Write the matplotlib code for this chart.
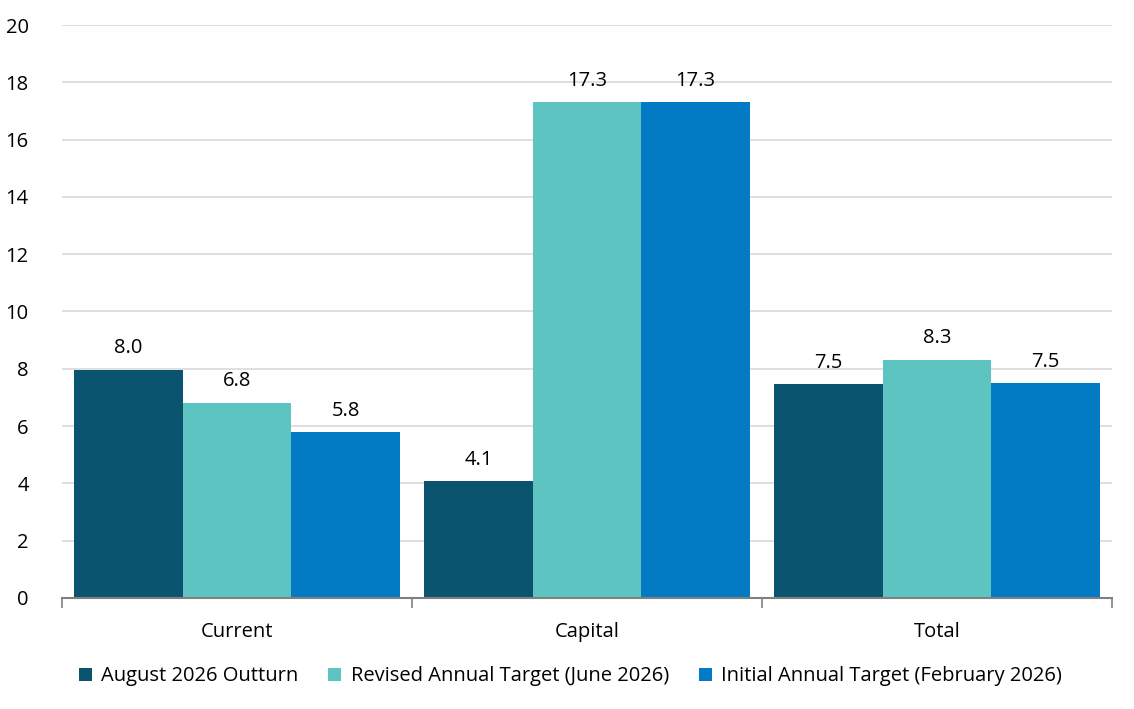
import matplotlib
matplotlib.use("Agg")
import matplotlib.pyplot as plt
import numpy as np

categories = ["Current", "Capital", "Total"]
series_names = ["August 2026 Outturn", "Revised Annual Target (June 2026)", "Initial Annual Target (February 2026)"]
outturn = [7.96, 4.08, 7.47]
revised = [6.81, 17.31, 8.31]
initial = [5.79, 17.31, 7.50]
colors = ["#0B5470", "#5EC4C1", "#037BC4"]
yticks = [0, 2, 4, 6, 8, 10, 12, 14, 16, 18, 20]

plt.rcParams['font.family'] = ['Open Sans', 'DejaVu Sans']
fig = plt.figure(figsize=(11.34, 7.09), dpi=100)
ax = fig.add_axes([0.0547, 0.1566, 0.9259, 0.8081])

x = np.arange(len(categories))
w = 0.31
fs = 14.5
for i, (vals, name) in enumerate(zip([outturn, revised, initial], series_names)):
    pos = x + (i - 1) * w
    bars = ax.bar(pos, vals, width=w, color=colors[i], label=name, zorder=3)
    for b, v in zip(bars, vals):
        ax.text(b.get_x() + b.get_width() / 2, v + 0.4, f"{v:.1f}", ha="center", va="bottom",
                fontsize=fs, color="#000000")

ax.set_xlim(-0.5, 2.5)
ax.set_ylim(0, 20)
ax.set_yticks(yticks)
ax.set_yticklabels([str(t) for t in yticks], fontsize=fs)
ax.set_xticks(x)
ax.set_xticklabels(categories, fontsize=fs)
ax.tick_params(axis='x', which='major', length=0, pad=17)
ax.set_xticks([-0.5, 0.5, 1.5, 2.5], minor=True)
ax.tick_params(axis='x', which='minor', length=7, width=1.2, color="#808080", direction='out')
ax.tick_params(axis='y', length=0, pad=24)
for t in ax.get_yticklabels():
    t.set_horizontalalignment('right')

ax.yaxis.grid(True, color="#D9D9D9", linewidth=1.2, zorder=0)
ax.set_axisbelow(True)
for s in ["top", "right", "left"]:
    ax.spines[s].set_visible(False)
ax.spines["bottom"].set_color("#808080")
ax.spines["bottom"].set_linewidth(1.5)
ax.spines["bottom"].set_zorder(4)

leg = fig.legend(loc="center", bbox_to_anchor=(0.503, 0.046), ncol=3, frameon=False,
                 fontsize=fs, handlelength=0.65, handleheight=0.65, handletextpad=0.45,
                 columnspacing=1.5)

fig.savefig("out.png", dpi=100)
